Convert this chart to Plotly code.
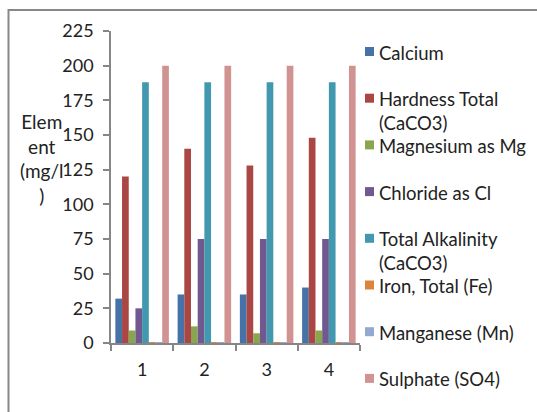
import plotly.graph_objects as go

# Sampling points
samples = ["1", "2", "3", "4"]

# Measured parameters (mg/l)
calcium = [32, 35, 35, 40]
hardness_total = [120, 140, 128, 148]
magnesium = [9, 12, 7, 9]
chloride = [25, 75, 75, 75]
total_alkalinity = [188, 188, 188, 188]
iron_total = [0.6, 0.6, 0.6, 0.6]
manganese = [0.4, 0.4, 0.4, 0.4]
sulphate = [200, 200, 200, 200]

series_names = [
    "Calcium",
    "Hardness Total (CaCO3)",
    "Magnesium as Mg",
    "Chloride as Cl",
    "Total Alkalinity (CaCO3)",
    "Iron, Total (Fe)",
    "Manganese (Mn)",
    "Sulphate (SO4)",
]
# Legend labels as they wrap in the legend column
legend_labels = [
    "Calcium",
    "Hardness Total<br>(CaCO3)",
    "Magnesium as Mg",
    "Chloride as Cl",
    "Total Alkalinity<br>(CaCO3)",
    "Iron, Total (Fe)",
    "Manganese (Mn)",
    "Sulphate (SO4)",
]
series_values = [calcium, hardness_total, magnesium, chloride,
                 total_alkalinity, iron_total, manganese, sulphate]
colors = ["#4572A7", "#AA4643", "#89A54E", "#71588F",
          "#4198AF", "#DB843D", "#93A9CF", "#D19392"]

FONT = "Lato"
W, H = 537, 412
L, R, T, B = 111, 177, 31, 69
PW, PH = W - L - R, H - T - B


def px_x(x):
    return (x - L) / PW


def px_y(y):
    return (H - B - y) / PH


fig = go.Figure()
for name, vals, col in zip(series_names, series_values, colors):
    fig.add_trace(go.Bar(x=samples, y=vals, name=name,
                         marker=dict(color=col, line=dict(width=0)),
                         showlegend=False))

shapes = []
annotations = []

# Legend column drawn beside the plot
for i, (lab, col) in enumerate(zip(legend_labels, colors)):
    yc = 51.5 + i * 46.7
    shapes.append(dict(type="rect", xref="paper", yref="paper",
                       x0=px_x(365), x1=px_x(374),
                       y0=px_y(yc + 4.5), y1=px_y(yc - 4.5),
                       fillcolor=col, line=dict(width=0)))
    annotations.append(dict(xref="paper", yref="paper",
                            x=px_x(377), y=px_y(yc - 12),
                            xanchor="left", yanchor="top", align="left",
                            text=lab, showarrow=False,
                            font=dict(family=FONT, size=18.5, color="#222")))

# Y-axis title, wrapped in a narrow column
annotations.append(dict(xref="paper", yref="paper",
                        x=px_x(42), y=px_y(108),
                        xanchor="center", yanchor="top", align="center",
                        text="Elem<br>ent<br>(mg/l<br>)", showarrow=False,
                        font=dict(family=FONT, size=19, color="#222")))

# Chart frame
shapes.append(dict(type="rect", xref="paper", yref="paper",
                   x0=px_x(8.5), x1=px_x(W + 5),
                   y0=px_y(H + 5), y1=px_y(10),
                   line=dict(color="#888888", width=2),
                   fillcolor="rgba(0,0,0,0)", layer="below"))

axis_col = "#868686"
fig.update_layout(
    width=W, height=H,
    margin=dict(l=L, r=R, t=T, b=B, pad=0),
    paper_bgcolor="white", plot_bgcolor="white",
    barmode="group", bargap=0.14, bargroupgap=0,
    font=dict(family=FONT, size=18, color="#222"),
    shapes=shapes, annotations=annotations,
    xaxis=dict(type="category", showline=True, linecolor=axis_col, linewidth=1.5,
               ticks="outside", tickson="boundaries", ticklen=6,
               tickcolor=axis_col, tickwidth=1.5, showgrid=False,
               ticklabelstandoff=10,
               tickfont=dict(family=FONT, size=18, color="#222")),
    yaxis=dict(range=[0, 225], tickvals=[0, 25, 50, 75, 100, 125, 150, 175, 200, 225],
               showline=True, linecolor=axis_col, linewidth=1.5,
               ticks="outside", ticklen=6, tickcolor=axis_col, tickwidth=1.5,
               showgrid=False, zeroline=False, ticklabelstandoff=6,
               tickfont=dict(family=FONT, size=18, color="#222")),
)

fig.write_html("out.html")
